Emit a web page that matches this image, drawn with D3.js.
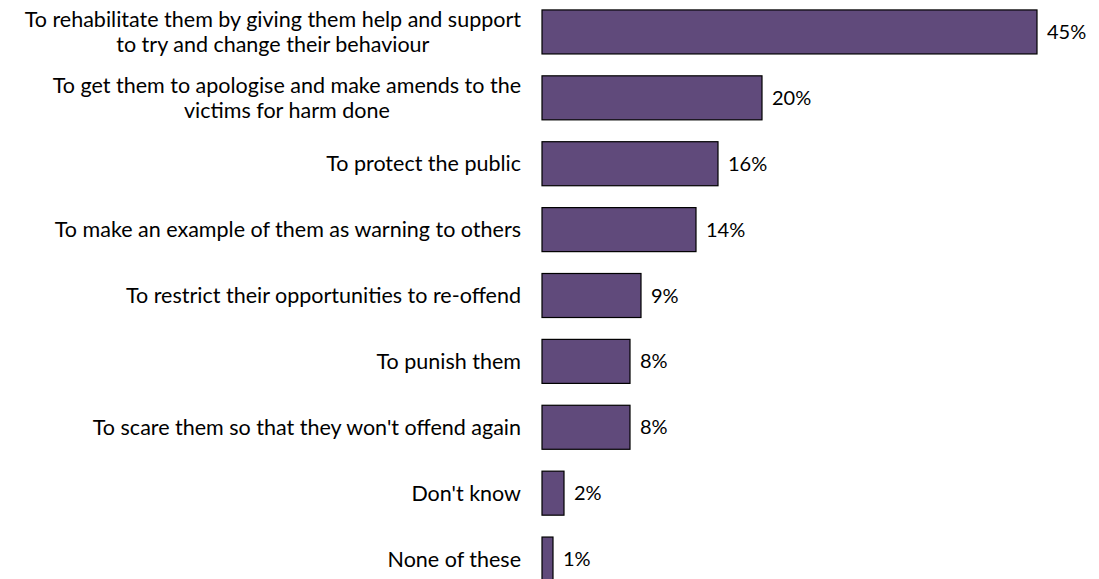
<!DOCTYPE html>
<html>
<head>
    <script type="text/javascript" src="https://cdn.jsdelivr.net/npm/d3@7"></script>
    <style>
        body { margin: 0; background: #fff; }
        text { font-family: Lato, "Open Sans", sans-serif; fill: #000; }
    </style>
</head>
<body>
    <div id="viz"></div>
    <script type="text/javascript">

    // chart data
    var categories = [
        ["To rehabilitate them by giving them help and support", "to try and change their behaviour"],
        ["To get them to apologise and make amends to the", "victims for harm done"],
        ["To protect the public"],
        ["To make an example of them as warning to others"],
        ["To restrict their opportunities to re-offend"],
        ["To punish them"],
        ["To scare them so that they won't offend again"],
        ["Don't know"],
        ["None of these"]
    ];
    var values = [45, 20, 16, 14, 9, 8, 8, 2, 1];

    var width = 1099, height = 579;
    var barLeft = 542;
    var labelRight = 521;

    var svg = d3.select("#viz")
            .append("svg")
            .attr("width", width)
            .attr("height", height);

    var x = d3.scaleLinear()
        .domain([0, 45])
        .range([barLeft, 1037]);

    var y = d3.scaleBand()
        .domain(d3.range(values.length))
        .range([-1, 592])
        .paddingInner(0.332)
        .paddingOuter(0.166);

    // bars
    svg.selectAll("rect.bar")
        .data(values)
        .enter().append("rect")
        .attr("class", "bar")
        .attr("x", x(0))
        .attr("y", function (d, i) { return y(i); })
        .attr("width", function (d) { return x(d) - x(0); })
        .attr("height", y.bandwidth())
        .style("fill", "#604a7b")
        .style("stroke", "#000")
        .style("stroke-width", 1.2);

    // value labels
    svg.selectAll("text.val")
        .data(values)
        .enter().append("text")
        .attr("class", "val")
        .attr("x", function (d) { return x(d) + 10; })
        .attr("y", function (d, i) { return y(i) + y.bandwidth() / 2; })
        .attr("dy", "0.35em")
        .style("font-size", "20px")
        .text(function (d) { return d + "%"; });

    // category labels, one text per line so wrapped labels sit apart
    var lineH = 25;
    var lines = [];
    categories.forEach(function (d, i) {
        var cy = y(i) + y.bandwidth() / 2 - (d.length - 1) * lineH / 2;
        d.forEach(function (line, k) {
            lines.push({ text: line, row: i, k: k, y: cy + k * lineH });
        });
    });

    var cat = svg.selectAll("text.cat")
        .data(lines)
        .enter().append("text")
        .attr("class", "cat")
        .style("font-size", "21.5px")
        .attr("x", labelRight)
        .attr("y", function (d) { return d.y; })
        .attr("dy", "0.35em")
        .attr("text-anchor", function (d) { return d.k > 0 ? "middle" : "end"; })
        .text(function (d) { return d.text; });

    // second lines of wrapped labels are centred under the first line
    var firstW = {};
    cat.filter(function (d) { return d.k === 0; })
        .each(function (d) { firstW[d.row] = this.getComputedTextLength(); });
    cat.filter(function (d) { return d.k > 0; })
        .attr("x", function (d) { return labelRight - firstW[d.row] / 2; });

    </script>
</body>
</html>
